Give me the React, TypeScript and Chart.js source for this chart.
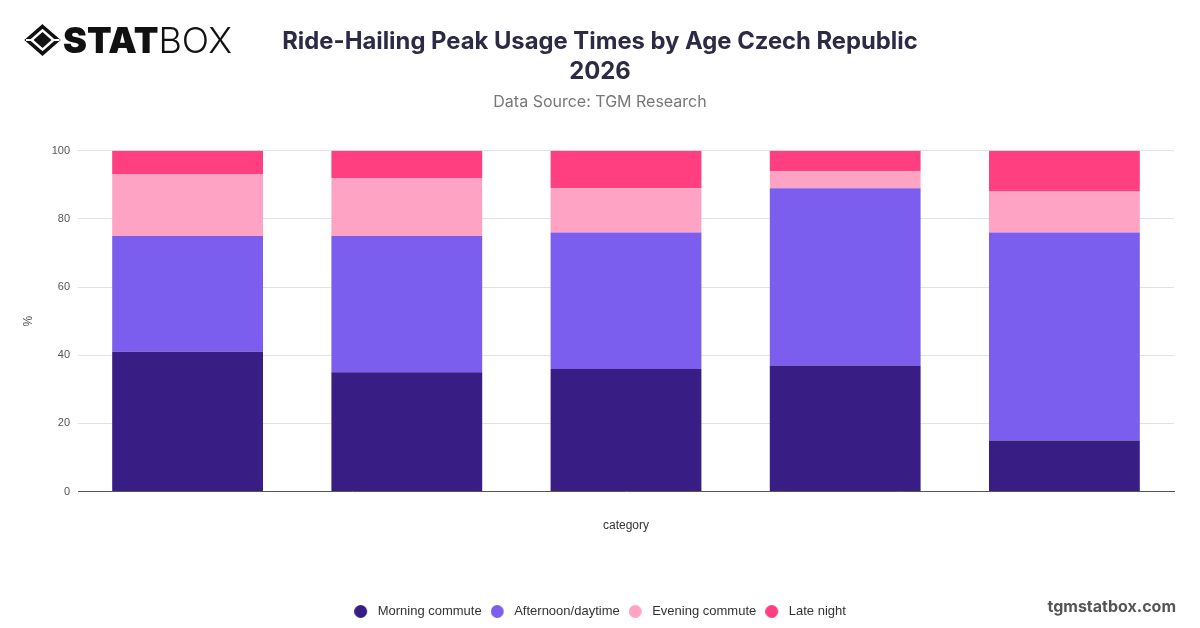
import React, { useEffect, useRef } from "react";
import { Chart, registerables } from "chart.js";

Chart.register(...registerables);

const categories = ["", "", "", "", ""];
const seriesNames = ["Morning commute", "Afternoon/daytime", "Evening commute", "Late night"];
const morningCommute = [41, 35, 36, 37, 15];
const afternoonDaytime = [34, 40, 40, 52, 61];
const eveningCommute = [18, 17, 13, 5, 12];
const lateNight = [7, 8, 11, 6, 12];
const yMin = 0;
const yMax = 100;
const yStep = 20;

const titleLines = ["Ride-Hailing Peak Usage Times by Age Czech Republic", "2026"];
const subtitleText = "Data Source: TGM Research";
const yAxisTitle = "%";
const xAxisTitle = "category";

const colors = ["#381d84", "#7c5eee", "#fea3c4", "#ff3f80"];

function makeDot(color: string): HTMLCanvasElement {
  // legend marker: a 13px circle with transparent room on its right
  const c = document.createElement("canvas");
  c.width = 17;
  c.height = 13;
  const ctx = c.getContext("2d");
  if (ctx) {
    ctx.fillStyle = color;
    ctx.beginPath();
    ctx.arc(6.5, 6.5, 6.5, 0, Math.PI * 2);
    ctx.fill();
  }
  return c;
}

export default function App() {
  const canvasRef = useRef<HTMLCanvasElement | null>(null);

  useEffect(() => {
    if (!canvasRef.current) return;
    const values = [morningCommute, afternoonDaytime, eveningCommute, lateNight];
    const dots = colors.map(makeDot);
    const chart = new Chart(canvasRef.current, {
      type: "bar",
      data: {
        labels: categories,
        datasets: values.map((v, i) => ({
          label: seriesNames[i],
          data: v,
          backgroundColor: colors[i],
          borderWidth: 0,
          categoryPercentage: 0.8,
          barPercentage: 0.86,
          pointStyle: dots[i] as any,
        })),
      },
      options: {
        responsive: false,
        animation: false,
        layout: { padding: { left: 21, right: 21, top: 0, bottom: 0 } },
        plugins: {
          title: {
            display: true,
            text: titleLines,
            color: "#2d2a45",
            font: { family: "Inter", size: 23.8, weight: "bold", lineHeight: 1.25 },
            padding: { top: 27, bottom: 6 },
          },
          subtitle: {
            display: true,
            text: subtitleText,
            color: "#777777",
            font: { family: "Inter", size: 16, weight: "normal" },
            padding: { top: 0, bottom: 39 },
          },
          legend: {
            position: "bottom",
            labels: {
              usePointStyle: true,
              pointStyleWidth: 17,
              boxWidth: 17,
              boxHeight: 9,
              padding: 9,
              color: "#333333",
              font: { family: "Liberation Sans", size: 13 },
            },
          },
          tooltip: { enabled: false },
        },
        scales: {
          x: {
            stacked: true,
            grid: { display: false, drawTicks: false },
            border: { display: true, color: "#555555", width: 1 },
            ticks: { display: false },
            title: {
              display: true,
              text: xAxisTitle,
              color: "#333333",
              font: { family: "Liberation Sans", size: 12 },
              padding: { top: 27, bottom: 63 },
            },
          },
          y: {
            stacked: true,
            min: yMin,
            max: yMax,
            ticks: {
              stepSize: yStep,
              color: "#555555",
              font: { family: "Liberation Sans", size: 11 },
              padding: 8,
            },
            grid: { color: "#e2e2e2", drawTicks: false },
            border: { display: false },
            title: {
              display: true,
              text: yAxisTitle,
              color: "#555555",
              font: { family: "Liberation Sans", size: 12 },
              padding: { top: 0, bottom: 4 },
            },
            afterFit: (s: any) => {
              s.width = 57;
            },
          },
          yRightSpacer: {
            type: "linear",
            position: "right",
            display: true,
            grid: { display: false, drawTicks: false },
            border: { display: false },
            ticks: { display: false },
            afterFit: (s: any) => {
              s.width = 5;
            },
          },
        },
      },
    });
    return () => chart.destroy();
  }, []);

  return (
    <div style={{ position: "fixed", left: 0, top: 0, width: 1200, height: 628, background: "#ffffff" }}>
      <canvas ref={canvasRef} width={1200} height={628} style={{ position: "absolute", left: 0, top: 0 }} />
      <svg width={1200} height={628} style={{ position: "absolute", left: 0, top: 0, pointerEvents: "none" }}>
        <g>
          <polygon points="42.5,26.5 58,40 42.5,53.5 27,40" fill="none" stroke="#111" strokeWidth={3.6} strokeLinejoin="miter" />
          <polygon points="42.5,32 51.5,40 42.5,48 33.5,40" fill="#111" />
          <line x1={26} y1={40} x2={33} y2={40} stroke="#fff" strokeWidth={2} />
          <line x1={52} y1={40} x2={59.5} y2={40} stroke="#fff" strokeWidth={2} />
        </g>
        <text x={63} y={53} fontFamily="Inter" fontWeight={900} fontSize={36} fill="#111">
          STAT
          <tspan fontWeight={300}>BOX</tspan>
        </text>
        <text x={1176} y={612} textAnchor="end" fontFamily="Inter" fontWeight={700} fontSize={16} fill="#555555">
          tgmstatbox.com
        </text>
      </svg>
    </div>
  );
}
